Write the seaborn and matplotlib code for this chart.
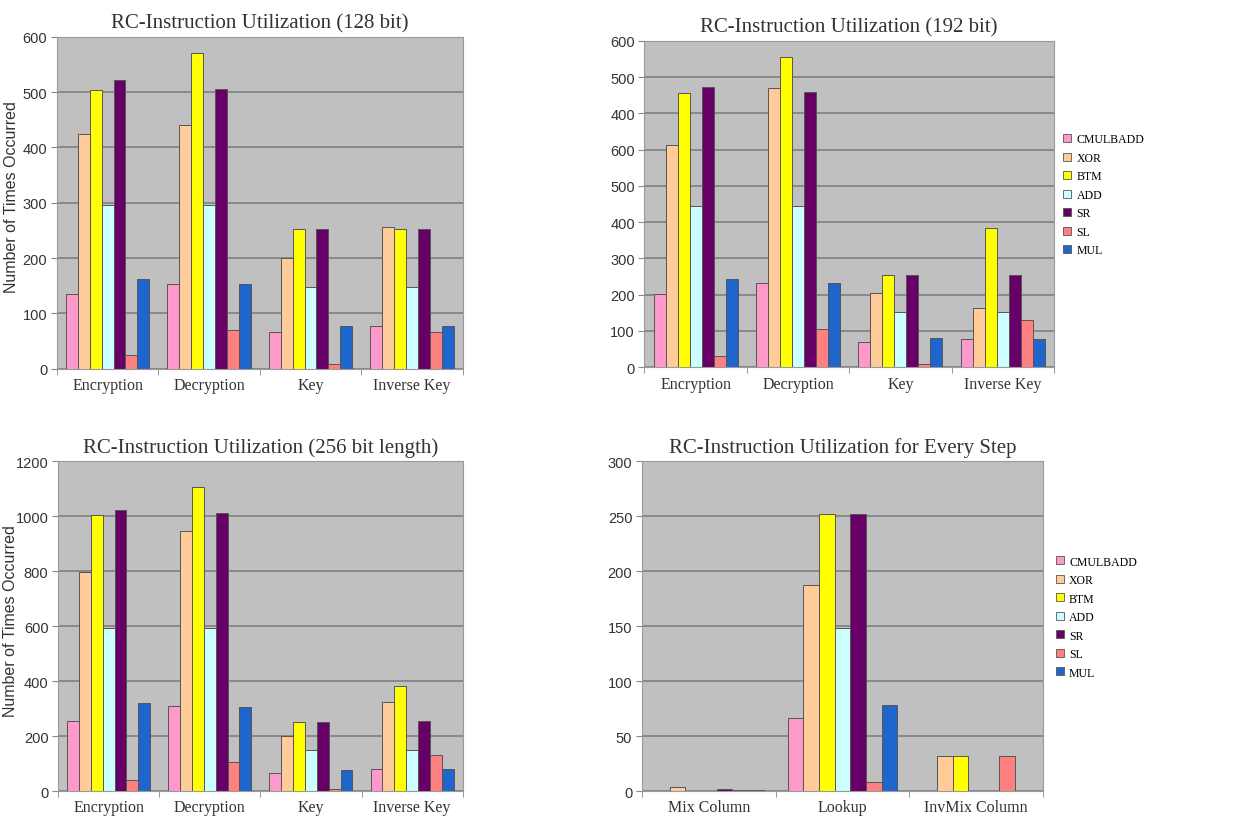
import pandas as pd
import matplotlib
matplotlib.use("Agg")
import matplotlib.pyplot as plt
from matplotlib.ticker import FixedLocator
import seaborn as sns

instructions = ["CMULBADD", "XOR", "BTM", "ADD", "SR", "SL", "MUL"]
phases = ["Encryption", "Decryption", "Key", "Inverse Key"]
steps = ["Mix Column", "Lookup", "InvMix Column"]

# one row per phase, one value per instruction (CMULBADD ... MUL)
util_128 = [
    [135, 425, 503, 296, 521, 25, 163],
    [154, 440, 570, 296, 506, 70, 154],
    [67, 201, 252, 148, 252, 8, 78],
    [77, 257, 253, 148, 253, 67, 77],
]
# the 192 bit panel is drawn in grid units (x100); its tick labels are as printed
util_192 = [
    [202, 613, 757, 444, 773, 32, 243],
    [231, 769, 856, 444, 760, 105, 231],
    [69, 205, 253, 152, 253, 9, 80],
    [78, 164, 383, 152, 254, 131, 78],
]
ticks_192 = ["0", "100", "200", "300", "400", "500", "600", "400", "500", "600"]
util_256 = [
    [257, 799, 1006, 592, 1024, 39, 321],
    [309, 947, 1108, 592, 1012, 105, 308],
    [65, 202, 251, 148, 251, 8, 78],
    [79, 324, 381, 148, 255, 132, 79],
]
util_step = [
    [0, 4, 0, 0, 2, 1, 1],
    [67, 188, 252, 148, 252, 8, 78],
    [0, 32, 32, 0, 0, 32, 0],
]

colors = ["#FF99CC", "#FFCC99", "#FFFF00", "#CCFFFF", "#660066", "#FF8080", "#1F66CC"]
palette = dict(zip(instructions, colors))

SERIF = "Liberation Serif"
SANS = "Liberation Sans"


def to_long(rows, groups):
    recs = []
    for g, row in zip(groups, rows):
        for ins, v in zip(instructions, row):
            recs.append({"group": g, "instr": ins, "count": v})
    return pd.DataFrame(recs)


def draw_panel(ax, rows, groups, title, ymax, ystep, ylabel=None, ticklabels=None):
    df = to_long(rows, groups)
    sns.barplot(data=df, x="group", y="count", hue="instr", order=groups,
                hue_order=instructions, palette=palette, width=0.82, saturation=1,
                edgecolor="#555555", linewidth=0.7, legend=False, ax=ax)
    ax.set_facecolor("#C0C0C0")
    ax.set_axisbelow(True)
    ax.yaxis.grid(True, color="#7A7A7A", linewidth=1.1)
    ax.xaxis.grid(False)
    ax.set_ylim(0, ymax)
    yt = list(range(0, ymax + 1, ystep))
    ax.set_yticks(yt)
    if ticklabels is not None:
        ax.set_yticklabels(ticklabels)
    for lab in ax.get_yticklabels():
        lab.set_fontfamily(SANS)
        lab.set_fontsize(10.5)
        lab.set_color("#333333")
    ax.set_xticks(range(len(groups)))
    ax.set_xticklabels(groups, fontfamily=SERIF, fontsize=11.5, color="#333333")
    ax.xaxis.set_minor_locator(FixedLocator([i - 0.5 for i in range(len(groups) + 1)]))
    ax.tick_params(axis="x", which="major", length=0, pad=6)
    ax.tick_params(axis="x", which="minor", length=4, color="#888888")
    ax.tick_params(axis="y", length=4, color="#888888", pad=3)
    ax.set_xlim(-0.5, len(groups) - 0.5)
    ax.set_xlabel("")
    ax.set_ylabel(ylabel if ylabel else "", fontfamily=SANS, fontsize=11.5, color="#333333")
    ax.set_title(title, fontfamily=SERIF, fontsize=15, color="#333333", pad=7)
    for s in ax.spines.values():
        s.set_color("#9A9A9A")
        s.set_linewidth(0.8)


def add_legend(ax, fig, x, y):
    handles = [plt.Line2D([], [], marker="s", linestyle="", markersize=5.5,
                          markerfacecolor=c, markeredgecolor="#555555", markeredgewidth=0.6)
               for c in colors]
    ax.legend(handles, instructions, loc="upper left", bbox_to_anchor=(x, y),
              bbox_transform=fig.transFigure, frameon=False, handlelength=0.8,
              handletextpad=0.4, labelspacing=0.55, borderaxespad=0,
              prop={"family": SERIF, "size": 8.5})


fig = plt.figure(figsize=(12.37, 8.2), dpi=100)
ax1 = fig.add_axes([0.046, 0.549, 0.328, 0.405])
ax2 = fig.add_axes([0.521, 0.551, 0.331, 0.398])
ax3 = fig.add_axes([0.047, 0.034, 0.327, 0.402])
ax4 = fig.add_axes([0.519, 0.034, 0.324, 0.402])

draw_panel(ax1, util_128, phases, "RC-Instruction Utilization (128 bit)", 600, 100,
           ylabel="Number of Times Occurred")
draw_panel(ax2, util_192, phases, "RC-Instruction Utilization (192 bit)", 900, 100,
           ticklabels=ticks_192)
draw_panel(ax3, util_256, phases, "RC-Instruction Utilization (256 bit length)", 1200, 200,
           ylabel="Number of Times Occurred")
draw_panel(ax4, util_step, steps, "RC-Instruction Utilization for Every Step", 300, 50)

# y labels sit close to the tick labels, as in the original
ax1.yaxis.set_label_coords(-0.093, 0.52)
ax3.yaxis.set_label_coords(-0.098, 0.52)

add_legend(ax2, fig, 0.855, 0.842)
add_legend(ax4, fig, 0.849, 0.327)

fig.savefig("out.png", dpi=100, facecolor="white")
